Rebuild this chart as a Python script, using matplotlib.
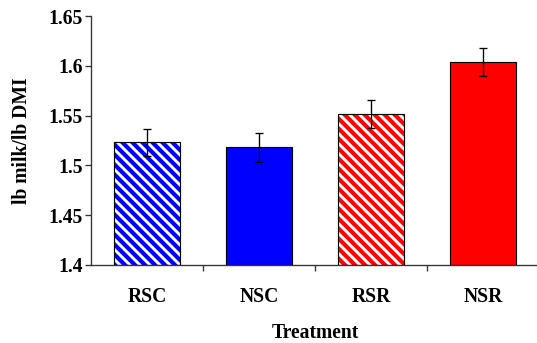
import matplotlib
matplotlib.use('Agg')
import matplotlib.pyplot as plt
import numpy as np

treatments = ['RSC', 'NSC', 'RSR', 'NSR']
milk_per_dmi = [1.523, 1.518, 1.552, 1.6035]
sem = [0.014, 0.0145, 0.014, 0.014]
colors = ['#0000FF', '#0000FF', '#FF0000', '#FF0000']
hatched = [True, False, True, False]

DPI = 120
BACKSLASH = chr(92)
plt.rcParams['font.family'] = ['Liberation Serif', 'DejaVu Serif']
plt.rcParams['font.weight'] = 'bold'
plt.rcParams['hatch.linewidth'] = 2.5

fig = plt.figure(figsize=(537 / DPI, 343 / DPI), dpi=DPI)
ax = fig.add_axes([91 / 537, (343 - 265) / 343, 448 / 537, 249 / 343])

x = np.arange(len(treatments))
for i in range(len(treatments)):
    h = milk_per_dmi[i] - 1.4
    if hatched[i]:
        # hatch colour follows edgecolor, so draw the outline separately
        ax.bar(x[i], h, bottom=1.4, width=0.59, facecolor='white',
               edgecolor=colors[i], hatch=BACKSLASH * 4, linewidth=0)
        ax.bar(x[i], h, bottom=1.4, width=0.59, facecolor='none',
               edgecolor='black', linewidth=0.7)
    else:
        ax.bar(x[i], h, bottom=1.4, width=0.59, facecolor=colors[i],
               edgecolor='black', linewidth=0.7)

ax.errorbar(x, milk_per_dmi, yerr=sem, fmt='none', ecolor='black',
            elinewidth=0.8, capsize=2.2, capthick=0.8)

ax.set_xlim(-0.5, 3.5)
ax.set_ylim(1.4, 1.65)
ax.set_yticks([1.4, 1.45, 1.5, 1.55, 1.6, 1.65])
ax.set_yticklabels(['1.4', '1.45', '1.5', '1.55', '1.6', '1.65'])
ax.set_xticks([0.5, 1.5, 2.5])
ax.set_xticklabels([])
ax.set_xticks(x, minor=True)
ax.set_xticklabels(treatments, minor=True)
ax.tick_params(axis='x', which='minor', length=0, pad=13, labelsize=11.8)
ax.tick_params(axis='x', which='major', length=3.6, width=0.8, color='#333333')
ax.tick_params(axis='y', length=3.6, width=0.8, color='#333333',
               labelsize=11.8, pad=1.5)

for s in ['top', 'right']:
    ax.spines[s].set_visible(False)
for s in ['left', 'bottom']:
    ax.spines[s].set_color('#333333')
    ax.spines[s].set_linewidth(0.8)

ax.set_ylabel('lb milk/lb DMI', fontsize=11.8, fontweight='bold', labelpad=10)
ax.set_xlabel('Treatment', fontsize=11.8, fontweight='bold', labelpad=9.5)

fig.savefig('out.png', dpi=DPI)
